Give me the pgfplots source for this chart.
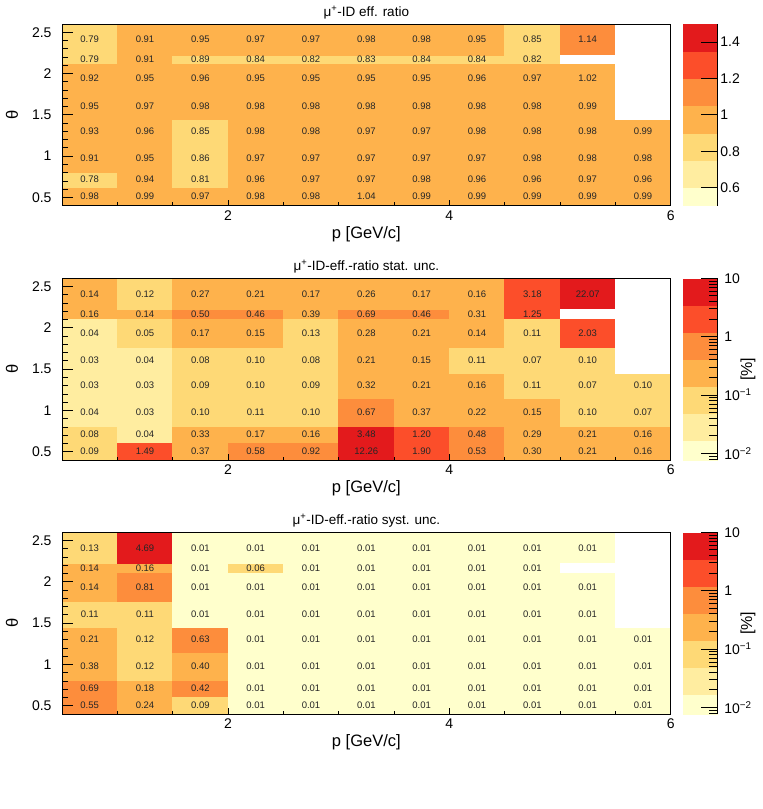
\documentclass[border=0pt]{standalone}
\usepackage{fontspec}
\setmainfont{Liberation Sans}
\usepackage{pgfplots}
\usepackage{pgfplotstable}
\pgfplotsset{compat=1.18}
\pgfplotsset{
  /pgf/number format/assume math mode=true,
  colormap={ylorrd}{rgb255=(255,255,204) rgb255=(255,237,160) rgb255=(254,217,118) rgb255=(254,178,76) rgb255=(253,141,60) rgb255=(252,78,42) rgb255=(227,26,28)},
  panel/.style={
    scale only axis, width=608.7pt, height=181.7pt,
    anchor=north west,
    xmin=0.5, xmax=6, ymin=0.4, ymax=2.6,
    axis on top,
    axis line style={line width=0.9pt, black},
    tick align=inside, tick pos=left,
    xtick={2,4,6}, minor xtick={1,1.5,2.5,3,3.5,4.5,5,5.5},
    ytick={0.5,1,1.5,2,2.5},
    minor ytick={0.6,0.7,0.8,0.9,1.1,1.2,1.3,1.4,1.6,1.7,1.8,1.9,2.1,2.2,2.3,2.4},
    every major x tick/.append style={/pgfplots/major tick length=6pt, line width=0.8pt, black},
    every minor x tick/.append style={/pgfplots/minor tick length=3.3pt, line width=0.8pt, black},
    every major y tick/.append style={/pgfplots/major tick length=11pt, line width=0.8pt, black},
    every minor y tick/.append style={/pgfplots/minor tick length=6pt, line width=0.8pt, black},
    ticklabel style={font=\fontsize{14}{16}\selectfont},
    xticklabel style={yshift=-1.5pt},
    yticklabel style={xshift=-7pt},
    xlabel={p [GeV/c]}, ylabel={θ},
    xlabel style={font=\fontsize{16.5}{19}\selectfont, at={(axis description cs:0.5,-0.155)}, anchor=center},
    ylabel style={font=\fontsize{16.5}{19}\selectfont, at={(axis description cs:-0.082,0.5)}, anchor=center},
    every axis title shift=0pt,
    title style={font=\fontsize{13.5}{16}\selectfont, at={(axis description cs:0.5,1.064)}, anchor=center},
    colormap name=ylorrd,
    colormap access=piecewise constant,
    colorbar,
    colorbar style={
      width=35pt,
      at={(parent axis.north east)}, anchor=north west, xshift=3.6pt,
      axis x line=none, axis y line*=right,
      axis line style={line width=0.8pt, black},
      ytick align=inside,
      major tick length=17pt, minor tick length=8.7pt,
      ytick style={line width=0.8pt, black},
      yticklabel style={font=\fontsize{14}{16}\selectfont},
    },
  },
  logbar/.style={
    point meta min=-2.255, point meta max=1,
    colorbar style={
      ymin=-2.115, ymax=1,
      ytick={-2,-1,0,1},
      yticklabels={10\textsuperscript{−2},10\textsuperscript{−1},1,10},
      minor ytick={-2.09691,-2.04576,-1.69897,-1.52288,-1.39794,-1.30103,-1.22185,-1.15490,-1.09691,-1.04576,-0.69897,-0.52288,-0.39794,-0.30103,-0.22185,-0.15490,-0.09691,-0.04576,0.30103,0.47712,0.60206,0.69897,0.77815,0.84510,0.90309,0.95424},
      yticklabel style={xshift=3pt},
      ylabel={[\%]},
      ylabel style={font=\fontsize{16}{18}\selectfont, at={(axis description cs:1.86,0.5)}, anchor=center},
    },
  },
  celllabels/.style={
    draw=none, forget plot,
    nodes near coords, nodes near coords align={center},
    point meta=explicit symbolic,
    every node near coord/.append style={font=\fontsize{9.5}{11}\selectfont, text=black!85, inner sep=0pt},
  },
  emptycells/.style={fill=white, draw=white, line width=0.6pt, forget plot},
}

% columns: x = lower p edge, y = lower theta edge, v = value of the cell, yc = theta centre of the cell (nan: no cell)
\pgfplotstableread{
x y v yc
0.5 0.40 0.98 0.51
1.0 0.40 0.99 0.51
1.5 0.40 0.97 0.51
2.0 0.40 0.98 0.51
2.5 0.40 0.98 0.51
3.0 0.40 1.04 0.51
3.5 0.40 0.99 0.51
4.0 0.40 0.99 0.51
4.5 0.40 0.99 0.51
5.0 0.40 0.99 0.51
5.5 0.40 0.99 0.51
6.0 0.40 0.99 nan
0.5 0.62 0.78 0.715
1.0 0.62 0.94 0.715
1.5 0.62 0.81 0.715
2.0 0.62 0.96 0.715
2.5 0.62 0.97 0.715
3.0 0.62 0.97 0.715
3.5 0.62 0.98 0.715
4.0 0.62 0.96 0.715
4.5 0.62 0.96 0.715
5.0 0.62 0.97 0.715
5.5 0.62 0.96 0.715
6.0 0.62 0.96 nan
0.5 0.81 0.91 0.98
1.0 0.81 0.95 0.98
1.5 0.81 0.86 0.98
2.0 0.81 0.97 0.98
2.5 0.81 0.97 0.98
3.0 0.81 0.97 0.98
3.5 0.81 0.97 0.98
4.0 0.81 0.97 0.98
4.5 0.81 0.98 0.98
5.0 0.81 0.98 0.98
5.5 0.81 0.98 0.98
6.0 0.81 0.98 nan
0.5 1.15 0.93 1.30
1.0 1.15 0.96 1.30
1.5 1.15 0.85 1.30
2.0 1.15 0.98 1.30
2.5 1.15 0.98 1.30
3.0 1.15 0.97 1.30
3.5 1.15 0.97 1.30
4.0 1.15 0.98 1.30
4.5 1.15 0.98 1.30
5.0 1.15 0.98 1.30
5.5 1.15 0.99 1.30
6.0 1.15 0.99 nan
0.5 1.45 0.95 1.605
1.0 1.45 0.97 1.605
1.5 1.45 0.98 1.605
2.0 1.45 0.98 1.605
2.5 1.45 0.98 1.605
3.0 1.45 0.98 1.605
3.5 1.45 0.98 1.605
4.0 1.45 0.98 1.605
4.5 1.45 0.98 1.605
5.0 1.45 0.99 1.605
5.5 1.45 0.99 nan
6.0 1.45 0.99 nan
0.5 1.76 0.92 1.94
1.0 1.76 0.95 1.94
1.5 1.76 0.96 1.94
2.0 1.76 0.95 1.94
2.5 1.76 0.95 1.94
3.0 1.76 0.95 1.94
3.5 1.76 0.95 1.94
4.0 1.76 0.96 1.94
4.5 1.76 0.97 1.94
5.0 1.76 1.02 1.94
5.5 1.76 1.02 nan
6.0 1.76 1.02 nan
0.5 2.12 0.79 2.17
1.0 2.12 0.91 2.17
1.5 2.12 0.89 2.17
2.0 2.12 0.84 2.17
2.5 2.12 0.82 2.17
3.0 2.12 0.83 2.17
3.5 2.12 0.84 2.17
4.0 2.12 0.84 2.17
4.5 2.12 0.82 2.17
5.0 2.12 0.99 nan
5.5 2.12 0.99 nan
6.0 2.12 0.99 nan
0.5 2.22 0.79 2.41
1.0 2.22 0.91 2.41
1.5 2.22 0.95 2.41
2.0 2.22 0.97 2.41
2.5 2.22 0.97 2.41
3.0 2.22 0.98 2.41
3.5 2.22 0.98 2.41
4.0 2.22 0.95 2.41
4.5 2.22 0.85 2.41
5.0 2.22 1.14 2.41
5.5 2.22 0.99 nan
6.0 2.22 0.99 nan
0.5 2.60 0.79 nan
1.0 2.60 0.91 nan
1.5 2.60 0.95 nan
2.0 2.60 0.97 nan
2.5 2.60 0.97 nan
3.0 2.60 0.98 nan
3.5 2.60 0.98 nan
4.0 2.60 0.95 nan
4.5 2.60 0.85 nan
5.0 2.60 1.14 nan
5.5 2.60 0.99 nan
6.0 2.60 0.99 nan
}\effdata

\pgfplotstableread{
x y v yc
0.5 0.40 0.09 0.51
1.0 0.40 1.49 0.51
1.5 0.40 0.37 0.51
2.0 0.40 0.58 0.51
2.5 0.40 0.92 0.51
3.0 0.40 12.26 0.51
3.5 0.40 1.90 0.51
4.0 0.40 0.53 0.51
4.5 0.40 0.30 0.51
5.0 0.40 0.21 0.51
5.5 0.40 0.16 0.51
6.0 0.40 0.16 nan
0.5 0.62 0.08 0.715
1.0 0.62 0.04 0.715
1.5 0.62 0.33 0.715
2.0 0.62 0.17 0.715
2.5 0.62 0.16 0.715
3.0 0.62 3.48 0.715
3.5 0.62 1.20 0.715
4.0 0.62 0.48 0.715
4.5 0.62 0.29 0.715
5.0 0.62 0.21 0.715
5.5 0.62 0.16 0.715
6.0 0.62 0.16 nan
0.5 0.81 0.04 0.98
1.0 0.81 0.03 0.98
1.5 0.81 0.10 0.98
2.0 0.81 0.11 0.98
2.5 0.81 0.10 0.98
3.0 0.81 0.67 0.98
3.5 0.81 0.37 0.98
4.0 0.81 0.22 0.98
4.5 0.81 0.15 0.98
5.0 0.81 0.10 0.98
5.5 0.81 0.07 0.98
6.0 0.81 0.07 nan
0.5 1.15 0.03 1.30
1.0 1.15 0.03 1.30
1.5 1.15 0.09 1.30
2.0 1.15 0.10 1.30
2.5 1.15 0.09 1.30
3.0 1.15 0.32 1.30
3.5 1.15 0.21 1.30
4.0 1.15 0.16 1.30
4.5 1.15 0.11 1.30
5.0 1.15 0.07 1.30
5.5 1.15 0.10 1.30
6.0 1.15 0.10 nan
0.5 1.45 0.03 1.605
1.0 1.45 0.04 1.605
1.5 1.45 0.08 1.605
2.0 1.45 0.10 1.605
2.5 1.45 0.08 1.605
3.0 1.45 0.21 1.605
3.5 1.45 0.15 1.605
4.0 1.45 0.11 1.605
4.5 1.45 0.07 1.605
5.0 1.45 0.10 1.605
5.5 1.45 0.10 nan
6.0 1.45 0.10 nan
0.5 1.76 0.04 1.94
1.0 1.76 0.05 1.94
1.5 1.76 0.17 1.94
2.0 1.76 0.15 1.94
2.5 1.76 0.13 1.94
3.0 1.76 0.28 1.94
3.5 1.76 0.21 1.94
4.0 1.76 0.14 1.94
4.5 1.76 0.11 1.94
5.0 1.76 2.03 1.94
5.5 1.76 2.03 nan
6.0 1.76 2.03 nan
0.5 2.12 0.16 2.17
1.0 2.12 0.14 2.17
1.5 2.12 0.50 2.17
2.0 2.12 0.46 2.17
2.5 2.12 0.39 2.17
3.0 2.12 0.69 2.17
3.5 2.12 0.46 2.17
4.0 2.12 0.31 2.17
4.5 2.12 1.25 2.17
5.0 2.12 1.25 nan
5.5 2.12 1.25 nan
6.0 2.12 1.25 nan
0.5 2.22 0.14 2.41
1.0 2.22 0.12 2.41
1.5 2.22 0.27 2.41
2.0 2.22 0.21 2.41
2.5 2.22 0.17 2.41
3.0 2.22 0.26 2.41
3.5 2.22 0.17 2.41
4.0 2.22 0.16 2.41
4.5 2.22 3.18 2.41
5.0 2.22 22.07 2.41
5.5 2.22 22.07 nan
6.0 2.22 22.07 nan
0.5 2.60 0.14 nan
1.0 2.60 0.12 nan
1.5 2.60 0.27 nan
2.0 2.60 0.21 nan
2.5 2.60 0.17 nan
3.0 2.60 0.26 nan
3.5 2.60 0.17 nan
4.0 2.60 0.16 nan
4.5 2.60 3.18 nan
5.0 2.60 22.07 nan
5.5 2.60 22.07 nan
6.0 2.60 22.07 nan
}\statdata

\pgfplotstableread{
x y v yc
0.5 0.40 0.55 0.51
1.0 0.40 0.24 0.51
1.5 0.40 0.09 0.51
2.0 0.40 0.01 0.51
2.5 0.40 0.01 0.51
3.0 0.40 0.01 0.51
3.5 0.40 0.01 0.51
4.0 0.40 0.01 0.51
4.5 0.40 0.01 0.51
5.0 0.40 0.01 0.51
5.5 0.40 0.01 0.51
6.0 0.40 0.01 nan
0.5 0.62 0.69 0.715
1.0 0.62 0.18 0.715
1.5 0.62 0.42 0.715
2.0 0.62 0.01 0.715
2.5 0.62 0.01 0.715
3.0 0.62 0.01 0.715
3.5 0.62 0.01 0.715
4.0 0.62 0.01 0.715
4.5 0.62 0.01 0.715
5.0 0.62 0.01 0.715
5.5 0.62 0.01 0.715
6.0 0.62 0.01 nan
0.5 0.81 0.38 0.98
1.0 0.81 0.12 0.98
1.5 0.81 0.40 0.98
2.0 0.81 0.01 0.98
2.5 0.81 0.01 0.98
3.0 0.81 0.01 0.98
3.5 0.81 0.01 0.98
4.0 0.81 0.01 0.98
4.5 0.81 0.01 0.98
5.0 0.81 0.01 0.98
5.5 0.81 0.01 0.98
6.0 0.81 0.01 nan
0.5 1.15 0.21 1.30
1.0 1.15 0.12 1.30
1.5 1.15 0.63 1.30
2.0 1.15 0.01 1.30
2.5 1.15 0.01 1.30
3.0 1.15 0.01 1.30
3.5 1.15 0.01 1.30
4.0 1.15 0.01 1.30
4.5 1.15 0.01 1.30
5.0 1.15 0.01 1.30
5.5 1.15 0.01 1.30
6.0 1.15 0.01 nan
0.5 1.45 0.11 1.605
1.0 1.45 0.11 1.605
1.5 1.45 0.01 1.605
2.0 1.45 0.01 1.605
2.5 1.45 0.01 1.605
3.0 1.45 0.01 1.605
3.5 1.45 0.01 1.605
4.0 1.45 0.01 1.605
4.5 1.45 0.01 1.605
5.0 1.45 0.01 1.605
5.5 1.45 0.01 nan
6.0 1.45 0.01 nan
0.5 1.76 0.14 1.94
1.0 1.76 0.81 1.94
1.5 1.76 0.01 1.94
2.0 1.76 0.01 1.94
2.5 1.76 0.01 1.94
3.0 1.76 0.01 1.94
3.5 1.76 0.01 1.94
4.0 1.76 0.01 1.94
4.5 1.76 0.01 1.94
5.0 1.76 0.01 1.94
5.5 1.76 0.01 nan
6.0 1.76 0.01 nan
0.5 2.12 0.14 2.17
1.0 2.12 0.16 2.17
1.5 2.12 0.01 2.17
2.0 2.12 0.06 2.17
2.5 2.12 0.01 2.17
3.0 2.12 0.01 2.17
3.5 2.12 0.01 2.17
4.0 2.12 0.01 2.17
4.5 2.12 0.01 2.17
5.0 2.12 0.01 nan
5.5 2.12 0.01 nan
6.0 2.12 0.01 nan
0.5 2.22 0.13 2.41
1.0 2.22 4.69 2.41
1.5 2.22 0.01 2.41
2.0 2.22 0.01 2.41
2.5 2.22 0.01 2.41
3.0 2.22 0.01 2.41
3.5 2.22 0.01 2.41
4.0 2.22 0.01 2.41
4.5 2.22 0.01 2.41
5.0 2.22 0.01 2.41
5.5 2.22 0.01 nan
6.0 2.22 0.01 nan
0.5 2.60 0.13 nan
1.0 2.60 4.69 nan
1.5 2.60 0.01 nan
2.0 2.60 0.01 nan
2.5 2.60 0.01 nan
3.0 2.60 0.01 nan
3.5 2.60 0.01 nan
4.0 2.60 0.01 nan
4.5 2.60 0.01 nan
5.0 2.60 0.01 nan
5.5 2.60 0.01 nan
6.0 2.60 0.01 nan
}\systdata

\begin{document}
\begin{tikzpicture}
\useasboundingbox (0,0) rectangle (763pt,-809pt);

% ---------------- panel 1: efficiency ratio
\begin{axis}[panel, at={(62pt,-24pt)},
  title={μ\textsuperscript{+}-ID eff. ratio},
  point meta min=0.45, point meta max=1.5,
  colorbar style={ymin=0.5, ymax=1.5, ytick={0.6,0.8,1,1.2,1.4}, yticklabel style={xshift=-1pt}}]
\addplot[surf, shader=flat corner, mesh/cols=12, point meta=\thisrow{v}] table[x=x, y=y] {\effdata};
\addplot[emptycells] coordinates {(5.5,1.45) (5.5,2.6) (6,2.6) (6,1.45) (5.5,1.45)};
\addplot[emptycells] coordinates {(5.0,2.12) (5.0,2.22) (5.5,2.22) (5.5,2.12) (5.0,2.12)};
\addplot[celllabels] table[x expr=\thisrow{x}+0.25, y=yc, meta=v] {\effdata};
\end{axis}

% ---------------- panel 2: statistical uncertainty
\begin{axis}[panel, logbar, at={(62pt,-278.3pt)},
  title={μ\textsuperscript{+}-ID-eff.-ratio stat. unc.}]
\addplot[surf, shader=flat corner, mesh/cols=12, point meta={log10(\thisrow{v})}] table[x=x, y=y] {\statdata};
\addplot[emptycells] coordinates {(5.5,1.45) (5.5,2.6) (6,2.6) (6,1.45) (5.5,1.45)};
\addplot[emptycells] coordinates {(5.0,2.12) (5.0,2.22) (5.5,2.22) (5.5,2.12) (5.0,2.12)};
\addplot[celllabels] table[x expr=\thisrow{x}+0.25, y=yc, meta=v] {\statdata};
\end{axis}

% ---------------- panel 3: systematic uncertainty
\begin{axis}[panel, logbar, at={(62pt,-532.3pt)},
  title={μ\textsuperscript{+}-ID-eff.-ratio syst. unc.}]
\addplot[surf, shader=flat corner, mesh/cols=12, point meta={log10(\thisrow{v})}] table[x=x, y=y] {\systdata};
\addplot[emptycells] coordinates {(5.5,1.45) (5.5,2.6) (6,2.6) (6,1.45) (5.5,1.45)};
\addplot[emptycells] coordinates {(5.0,2.12) (5.0,2.22) (5.5,2.22) (5.5,2.12) (5.0,2.12)};
\addplot[celllabels] table[x expr=\thisrow{x}+0.25, y=yc, meta=v] {\systdata};
\end{axis}
\end{tikzpicture}
\end{document}
